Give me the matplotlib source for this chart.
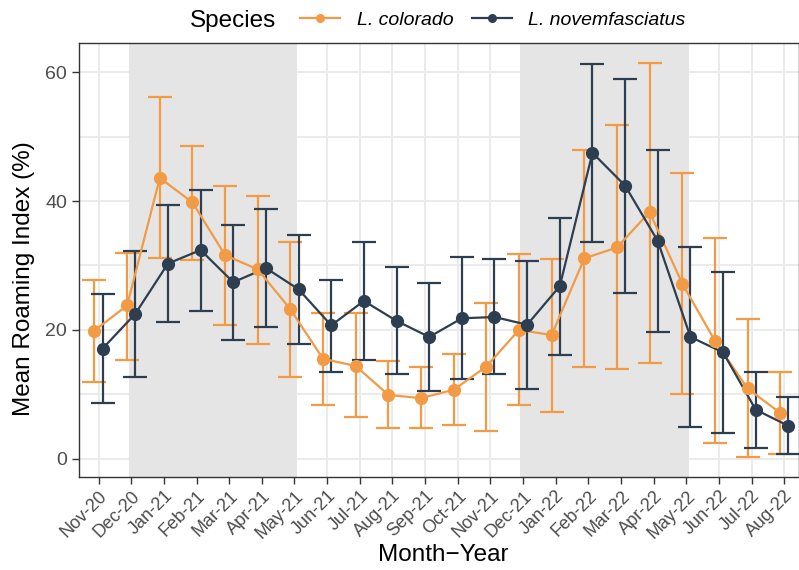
import matplotlib.pyplot as plt
from matplotlib.lines import Line2D

months = ["Nov-20", "Dec-20", "Jan-21", "Feb-21", "Mar-21", "Apr-21", "May-21",
          "Jun-21", "Jul-21", "Aug-21", "Sep-21", "Oct-21", "Nov-21", "Dec-21",
          "Jan-22", "Feb-22", "Mar-22", "Apr-22", "May-22", "Jun-22", "Jul-22", "Aug-22"]

colorado_mean = [19.9, 23.8, 43.6, 39.8, 31.6, 29.4, 23.2, 15.5, 14.4, 9.9, 9.4,
                 10.7, 14.3, 20.0, 19.2, 31.1, 32.8, 38.3, 27.2, 18.3, 10.9, 7.1]
colorado_hi = [27.8, 32.0, 56.1, 48.6, 42.4, 40.8, 33.6, 22.7, 22.6, 15.1, 14.2,
               16.2, 24.1, 31.8, 31.0, 47.9, 51.8, 61.5, 44.4, 34.2, 21.7, 13.5]
colorado_lo = [11.9, 15.4, 31.1, 30.8, 20.7, 17.8, 12.7, 8.3, 6.4, 4.8, 4.7,
               5.2, 4.3, 8.4, 7.3, 14.3, 13.9, 14.9, 10.1, 2.5, 0.2, 0.8]

novem_mean = [17.1, 22.5, 30.3, 32.4, 27.4, 29.6, 26.3, 20.7, 24.5, 21.4, 18.9,
              21.8, 22.0, 20.8, 26.8, 47.5, 42.4, 33.8, 18.9, 16.5, 7.6, 5.1]
novem_hi = [25.5, 32.3, 39.4, 41.7, 36.3, 38.7, 34.8, 27.8, 33.6, 29.7, 27.3,
            31.3, 31.0, 30.7, 37.3, 61.3, 59.0, 48.0, 32.9, 29.0, 13.4, 9.5]
novem_lo = [8.7, 12.7, 21.2, 22.9, 18.5, 20.5, 17.8, 13.5, 15.3, 13.1, 10.5,
            12.3, 13.2, 10.8, 16.1, 33.6, 25.7, 19.7, 4.9, 4.0, 1.7, 0.8]

# shaded seasons (month index ranges)
seasons = [("Dec-20", "May-21"), ("Dec-21", "May-22")]

ORANGE = "#F39A45"
DARK = "#2C3E50"
GRID = "#EBEBEB"

plt.rcParams['font.family'] = ['Liberation Sans', 'DejaVu Sans']

fig = plt.figure(figsize=(7.99, 5.70), dpi=100)
ax = fig.add_axes([79.3 / 799, 1 - 476.7 / 570, 1 - 79.3 / 799, (476.7 - 42.7) / 570])

x = list(range(len(months)))
dodge = 0.125

for start, end in seasons:
    ax.axvspan(months.index(start) - 0.08, months.index(end) + 0.07,
               color="#E5E5E5", lw=0, zorder=1)

series = [
    ("L. colorado", ORANGE, -dodge, colorado_mean, colorado_lo, colorado_hi),
    ("L. novemfasciatus", DARK, dodge, novem_mean, novem_lo, novem_hi),
]

for name, col, off, m, lo, hi in series:
    xs = [i + off for i in x]
    yerr = [[a - b for a, b in zip(m, lo)], [b - a for a, b in zip(m, hi)]]
    ax.errorbar(xs, m, yerr=yerr, fmt="none", ecolor=col, elinewidth=1.6,
                capsize=8.5, capthick=1.6, zorder=3)
for name, col, off, m, lo, hi in series:
    xs = [i + off for i in x]
    ax.plot(xs, m, color=col, lw=1.6, zorder=4)
for name, col, off, m, lo, hi in series:
    xs = [i + off for i in x]
    ax.plot(xs, m, "o", color=col, ms=9.5, mec="none", zorder=5)

ax.set_xlim(-0.59, 21.45)
ax.set_ylim(-2.8, 64.6)
ax.set_yticks([0, 20, 40, 60])
ax.set_yticks([10, 30, 50], minor=True)
ax.set_xticks(x)
ax.set_xticklabels(months, rotation=45, ha="right", va="top", rotation_mode="anchor")

ax.set_axisbelow(True)
ax.grid(True, which="major", color=GRID, lw=1.4, zorder=0)
ax.grid(True, which="minor", axis="y", color=GRID, lw=1.4, zorder=0)
ax.tick_params(axis="both", which="major", length=4.75, width=1.0, color="#333333",
               labelsize=14, labelcolor="#4D4D4D", pad=4)
ax.tick_params(axis="y", which="minor", length=0)
ax.tick_params(axis="x", which="major", labelsize=13, pad=3)
for s in ax.spines.values():
    s.set_color("#333333")
    s.set_linewidth(1.0)

ax.set_ylabel("Mean Roaming Index (%)", fontsize=17.5, color="black")
ax.yaxis.set_label_coords(-0.0768, (476.7 - 279) / (476.7 - 42.7))
ax.yaxis.label.set_va("center")
ax.set_xlabel("Month\u2212Year", fontsize=17.5, color="black")
ax.xaxis.set_label_coords((443 - 79.3) / (799 - 79.3), (476.7 - 555) / (476.7 - 42.7))
ax.xaxis.label.set_va("center")

# legend on top, title on the left
fig.text(190 / 799, 1 - 21 / 570, "Species", fontsize=17.5, ha="left", va="center")
handles = [Line2D([], [], color=ORANGE, lw=1.6, marker="o", ms=6.5, mec="none"),
           Line2D([], [], color=DARK, lw=1.6, marker="o", ms=6.5, mec="none")]
fig.legend(handles, [s[0] for s in series], loc="center left",
           bbox_to_anchor=(300 / 799, 1 - 20 / 570), ncol=2, frameon=False,
           prop={"style": "italic", "size": 14}, handlelength=2.06,
           handletextpad=0.85, columnspacing=0.95, borderpad=0, borderaxespad=0)

fig.savefig("out.png", dpi=100)
